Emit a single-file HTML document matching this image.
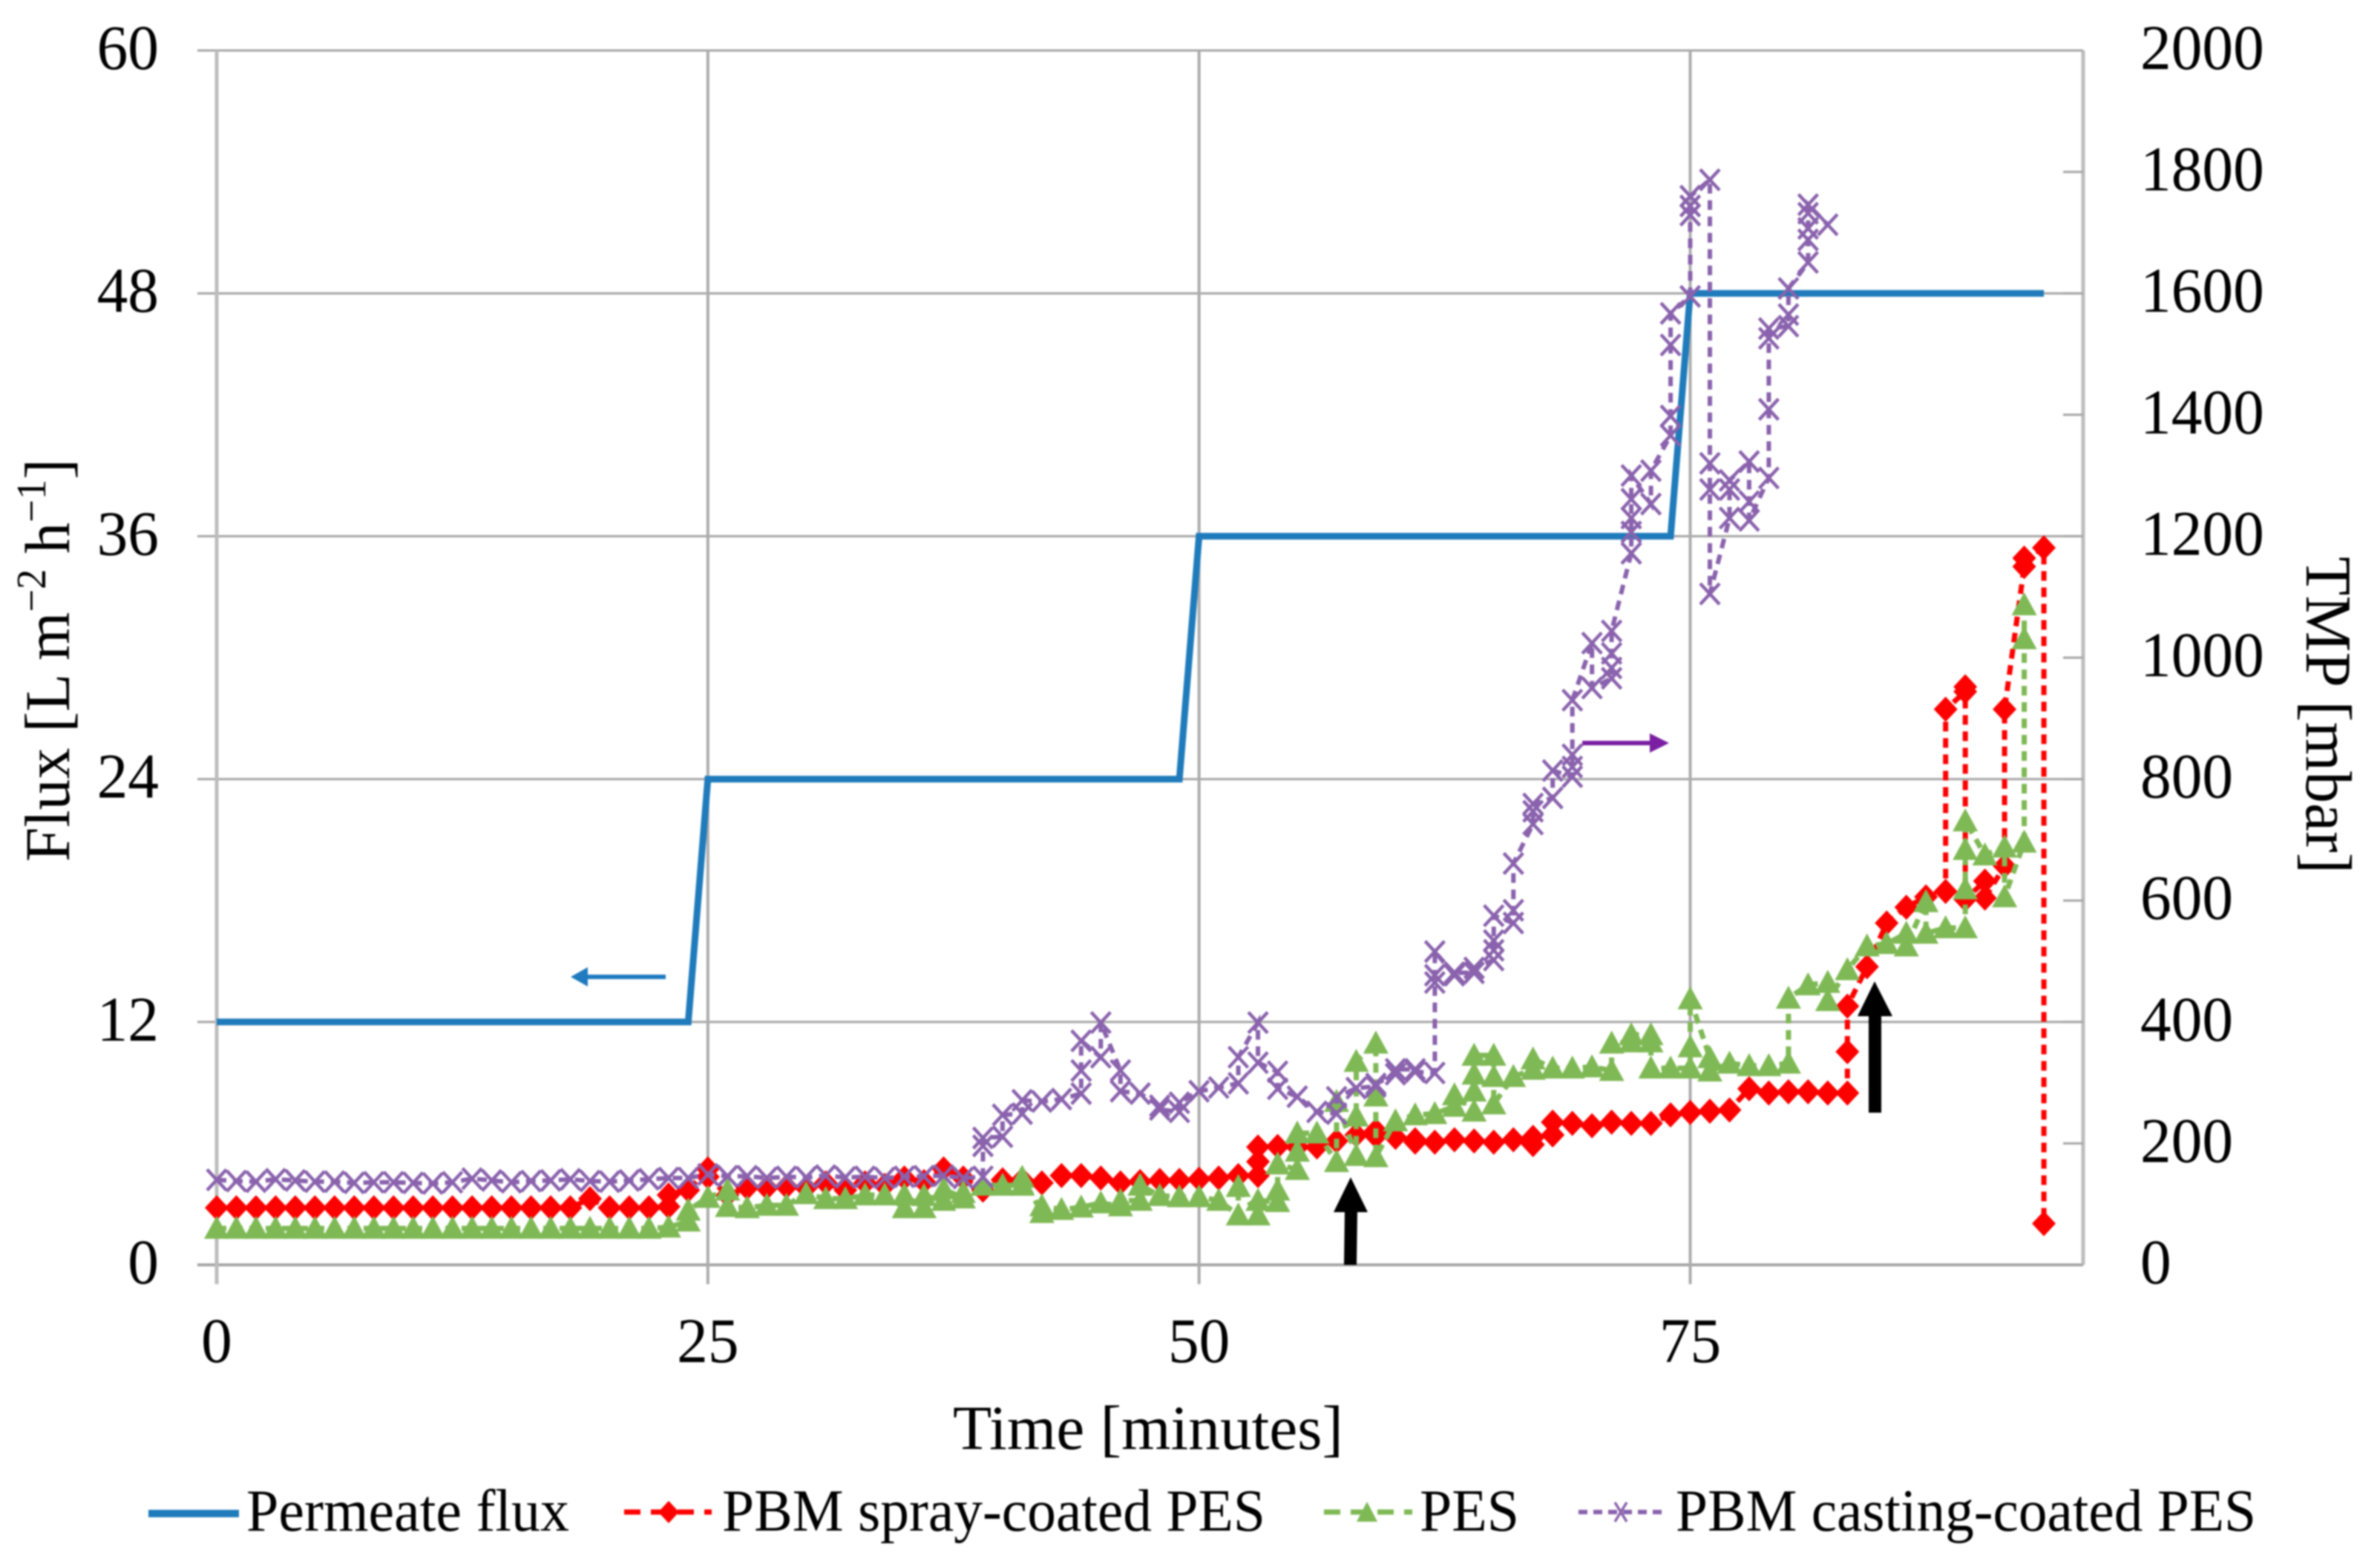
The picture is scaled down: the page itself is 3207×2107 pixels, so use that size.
<!DOCTYPE html>
<html lang="en">
<head>
<meta charset="utf-8">
<title>Flux and TMP versus time</title>
<style>
html,body{margin:0;padding:0;background:#fff;width:3207px;height:2107px;overflow:hidden}
svg{display:block;filter:blur(1.1px)}
text{font-family:"Liberation Serif",serif;fill:#000}
</style>
</head>
<body>
<svg id="chart" xmlns="http://www.w3.org/2000/svg" width="3207" height="2107" viewBox="0 0 3207 2107">
  <rect x="0" y="0" width="3207" height="2107" fill="#fff"/>
  <g id="grid"></g>
  <g id="ticks"></g>
  <g id="marks"></g>

  <g>
    <line x1="897" y1="1316" x2="785" y2="1316" stroke="#1f7abf" stroke-width="6"/>
    <polygon points="769,1316 792,1303 792,1329" fill="#1f7abf"/>
  </g>
  <g>
    <line x1="2132" y1="1001" x2="2230" y2="1001" stroke="#7a1fa2" stroke-width="6"/>
    <polygon points="2249,1001 2223,988 2223,1014" fill="#7a1fa2"/>
  </g>
  <polygon points="1820,1586 1843,1633 1829,1633 1828,1704 1811,1704 1812,1633 1797,1633" fill="#000"/>
  <polygon points="2526,1322 2550,1369 2535,1369 2535,1499 2518,1499 2518,1369 2503,1369" fill="#000"/>

  <text transform="translate(93,1161) rotate(-90)" font-size="86" textLength="543" lengthAdjust="spacingAndGlyphs">Flux [L m<tspan font-size="56" dy="-32">−2</tspan><tspan dy="32"> h</tspan><tspan font-size="56" dy="-32">−1</tspan><tspan dy="32">]</tspan></text>
  <text transform="translate(3108,750) rotate(90)" font-size="88" textLength="427" lengthAdjust="spacingAndGlyphs">TMP [mbar]</text>
  <text x="1284" y="1952" font-size="85" textLength="526" lengthAdjust="spacingAndGlyphs">Time [minutes]</text>

  <g>
    <g>
      <line x1="200" y1="2039" x2="322" y2="2039" stroke="#1f7bbb" stroke-width="10"/>
      <text x="332" y="2062" font-size="80" textLength="435" lengthAdjust="spacingAndGlyphs">Permeate flux</text>
    </g>
    <g>
      <line x1="841" y1="2037" x2="959" y2="2037" stroke="#ff0000" stroke-width="7" stroke-dasharray="22 14"/>
      <polygon points="901,2022 915,2037 901,2052 887,2037" fill="#ff0000"/>
      <text x="973" y="2062" font-size="80" textLength="732" lengthAdjust="spacingAndGlyphs">PBM spray-coated PES</text>
    </g>
    <g>
      <line x1="1784" y1="2037" x2="1903" y2="2037" stroke="#7fb955" stroke-width="7" stroke-dasharray="22 14"/>
      <polygon points="1842,2023 1856,2050 1828,2050" fill="#7fb955"/>
      <text x="1913" y="2062" font-size="80" textLength="134" lengthAdjust="spacingAndGlyphs">PES</text>
    </g>
    <g>
      <line x1="2127" y1="2037" x2="2246" y2="2037" stroke="#8a62ad" stroke-width="6" stroke-dasharray="12 8"/>
      <path d="M2176,2024 L2192,2050 M2192,2024 L2176,2050" stroke="#8a62ad" stroke-width="3.5" fill="none"/>
      <text x="2258" y="2062" font-size="80" textLength="782" lengthAdjust="spacingAndGlyphs">PBM casting-coated PES</text>
    </g>
  </g>
</svg>
<script>
// ---- chart data ----
const xTickLabels = [0, 25, 50, 75];
const fluxTickLabels = [0, 12, 24, 36, 48, 60];
const tmpTickLabels = [0, 200, 400, 600, 800, 1000, 1200, 1400, 1600, 1800, 2000];

const fluxTime = [0, 24, 25, 49, 50, 74, 75, 93];
const fluxValues = [12, 12, 24, 24, 36, 36, 48, 48];

const redTime = [
  0,1,2,3,4,5,6,7,8,9,10,11,12,13,14,15,16,17,18,19,20,21,22,
  23,23,24,25,25,
  26,27,28,29,30,31,32,33,34,35,36,37,38,39,40,41,
  42,43,44,45,46,47,48,49,50,51,52,
  53,53,53,54,55,56,57,58,59,59,60,61,61,
  62,63,64,65,66,67,67,68,68,
  69,70,71,72,73,74,75,76,77,78,79,80,81,82,
  83,83,83,84,85,86,87,88,88,89,89,89,90,90,91,91,92,92,93,93
];
const redTmp = [
  94,94,94,94,94,94,94,94,94,94,94,94,94,94,94,94,94,94,94,109,94,94,94,
  96,115,123,158,145,
  115,127,127,129,127,135,123,135,131,143,137,158,143,123,140,140,
  135,147,147,143,135,137,139,139,141,143,147,
  147,170,194,195,194,194,204,214,212,221,210,206,202,
  202,206,204,202,206,198,210,214,235,
  233,229,235,233,233,247,251,253,255,290,283,285,285,283,
  283,351,426,491,563,589,606,615,915,944,952,602,632,604,657,915,1150,1164,1181,68
];

const greenTime = [
  0,1,2,3,4,5,6,7,8,9,10,11,12,13,14,15,16,17,18,19,20,21,22,
  23,24,24,25,26,26,27,28,29,30,31,32,33,34,
  35,35,36,36,37,37,38,38,39,40,41,41,42,42,
  43,44,45,46,46,47,47,48,49,50,51,52,52,53,53,
  54,54,54,55,55,55,56,57,57,58,58,58,59,59,59,
  60,61,62,63,63,64,64,64,64,65,65,65,66,67,67,
  68,69,70,71,71,72,72,73,73,73,74,75,75,75,
  76,76,77,78,79,80,80,81,82,82,83,84,85,86,86,87,87,88,
  89,89,89,89,90,91,91,92,92,92
];
const greenTmp = [
  60,60,60,60,60,60,60,60,60,60,60,60,60,60,60,60,60,60,60,60,60,60,60,
  62,72,90,111,123,96,94,98,98,117,109,109,115,115,
  94,115,94,114,106,125,110,119,131,131,131,144,86,97,
  91,95,102,97,106,106,131,114,112,112,106,82,129,82,106,
  104,123,166,157,187,217,217,170,269,180,245,335,365,278,178,
  237,247,249,261,280,253,286,314,345,345,310,265,310,322,339,
  324,324,326,320,365,367,379,379,367,324,324,324,359,438,
  341,319,332,328,328,332,439,461,465,435,486,525,529,546,525,598,546,555,
  555,619,684,731,675,688,606,696,1031,1087
];

const purpleTime = [
  0,1,2,3,4,5,6,7,8,9,10,11,12,13,14,15,16,17,18,19,20,21,22,23,24,
  25,26,27,28,29,30,31,32,33,34,35,36,37,38,
  39,39,39,40,40,41,41,42,43,44,44,44,45,45,46,46,47,48,48,49,49,
  50,51,52,52,53,53,54,54,55,56,57,57,58,59,59,60,60,61,61,
  62,62,62,62,63,63,64,64,65,65,65,65,66,66,66,
  67,67,67,68,68,69,69,69,69,70,70,71,71,71,71,
  72,72,72,72,72,73,73,74,74,74,74,75,75,75,75,
  76,76,76,76,77,77,77,78,78,78,79,79,79,79,80,80,80,
  81,81,81,81,81,82
];
const purpleTmp = [
  140,138,137,141,139,137,137,135,136,136,135,134,136,142,139,136,138,139,141,138,137,139,141,143,143,
  149,146,146,143,145,144,147,144,145,143,145,146,147,143,
  145,196,209,211,247,249,271,269,273,282,320,369,342,399,320,286,282,262,256,252,267,
  286,292,299,342,399,333,318,290,277,252,249,276,291,294,298,314,322,322,318,
  316,465,477,516,477,481,481,489,502,518,534,575,563,584,661,
  726,747,759,769,814,804,820,840,930,1024,950,966,983,1007,1044,
  1172,1207,1230,1261,1300,1253,1308,1366,1398,1515,1567,1595,1729,1744,1760,
  1787,1320,1277,1105,1230,1277,1292,1323,1257,1226,1296,1409,1526,1542,1546,1565,1608,
  1651,1688,1707,1732,1746,1713
];

// ---- axis functions ----
const PLOT_LEFT = 292, PLOT_RIGHT = 2807, PLOT_TOP = 68, PLOT_BOTTOM = 1704;
const X_MAX = 95, FLUX_MAX = 60, TMP_MAX = 2000;
function xScale(t) { return PLOT_LEFT + (PLOT_RIGHT - PLOT_LEFT) * t / X_MAX; }
function yFlux(v) { return PLOT_BOTTOM - (PLOT_BOTTOM - PLOT_TOP) * v / FLUX_MAX; }
function yTmp(v) { return PLOT_BOTTOM - (PLOT_BOTTOM - PLOT_TOP) * v / TMP_MAX; }

const NS = 'http://www.w3.org/2000/svg';
const gridGroup = document.getElementById('grid');
const tickGroup = document.getElementById('ticks');
const markGroup = document.getElementById('marks');

function make(tag, parent, attrs) {
  const el = document.createElementNS(NS, tag);
  for (const k in attrs) el.setAttribute(k, attrs[k]);
  parent.appendChild(el);
  return el;
}

// gridlines & axes
fluxTickLabels.forEach(function (v) {
  const line = make('line', gridGroup, {x1: 266, x2: PLOT_RIGHT, y1: yFlux(v), y2: yFlux(v), stroke: '#a6a6a6', 'stroke-width': v === 0 ? 4 : 3});
  
  
});
xTickLabels.forEach(function (t) {
  const line = make('line', gridGroup, {x1: xScale(t), x2: xScale(t), y1: PLOT_TOP, y2: 1730, stroke: t === 0 ? '#bdbdbd' : '#acacac', 'stroke-width': t === 0 ? 5 : 4});
  
  
});
const rightAxis = make('line', gridGroup, {x1: PLOT_RIGHT, x2: PLOT_RIGHT, y1: PLOT_TOP, y2: PLOT_BOTTOM, stroke: '#bdbdbd', 'stroke-width': 5});


tmpTickLabels.forEach(function (v) {
  const tick = make('line', gridGroup, {x1: 2780, x2: PLOT_RIGHT, y1: yTmp(v), y2: yTmp(v), stroke: '#a6a6a6', 'stroke-width': 3});
  
  
});

// tick labels
const DIGIT_W = 41.7;
fluxTickLabels.forEach(function (v) {
  const s = String(v);
  const label = make('text', tickGroup, {x: 214, y: yFlux(v) + 25, 'text-anchor': 'end', 'font-size': 86, textLength: s.length * DIGIT_W, lengthAdjust: 'spacingAndGlyphs'});
  
  
  label.textContent = s;
});
tmpTickLabels.forEach(function (v) {
  const s = String(v);
  const label = make('text', tickGroup, {x: 2884, y: yTmp(v) + 25, 'font-size': 86, textLength: s.length * DIGIT_W, lengthAdjust: 'spacingAndGlyphs'});
  
  
  label.textContent = s;
});
xTickLabels.forEach(function (t) {
  const s = String(t);
  const label = make('text', tickGroup, {x: xScale(t), y: 1835, 'text-anchor': 'middle', 'font-size': 86, textLength: s.length * DIGIT_W, lengthAdjust: 'spacingAndGlyphs'});
  
  
  label.textContent = s;
});

// series
function pathFrom(times, values, yFn) {
  const n = Math.min(times.length, values.length);
  let d = '';
  for (let i = 0; i < n; i++) {
    d += (i ? 'L' : 'M') + xScale(times[i]).toFixed(1) + ',' + yFn(values[i]).toFixed(1);
  }
  return d;
}

const fluxLine = make('path', markGroup, {d: pathFrom(fluxTime, fluxValues, yFlux), fill: 'none', stroke: '#1f7bbb', 'stroke-width': 9, 'stroke-linejoin': 'miter'});



const redLine = make('path', markGroup, {d: pathFrom(redTime, redTmp, yTmp), fill: 'none', stroke: '#ff0000', 'stroke-width': 7, 'stroke-dasharray': '13 9'});


for (let i = 0; i < Math.min(redTime.length, redTmp.length); i++) {
  const cx = xScale(redTime[i]), cy = yTmp(redTmp[i]);
  const m = make('polygon', markGroup, {points: cx + ',' + (cy - 17) + ' ' + (cx + 16) + ',' + cy + ' ' + cx + ',' + (cy + 17) + ' ' + (cx - 16) + ',' + cy, fill: '#ff0000'});
  
  
}

const greenLine = make('path', markGroup, {d: pathFrom(greenTime, greenTmp, yTmp), fill: 'none', stroke: '#7fb955', 'stroke-width': 7, 'stroke-dasharray': '13 9'});


for (let i = 0; i < Math.min(greenTime.length, greenTmp.length); i++) {
  const cx = xScale(greenTime[i]), cy = yTmp(greenTmp[i]);
  const m = make('polygon', markGroup, {points: cx + ',' + (cy - 17) + ' ' + (cx + 17) + ',' + (cy + 14) + ' ' + (cx - 17) + ',' + (cy + 14), fill: '#7fb955'});
  
  
}

const purpleLine = make('path', markGroup, {d: pathFrom(purpleTime, purpleTmp, yTmp), fill: 'none', stroke: '#8a62ad', 'stroke-width': 6, 'stroke-dasharray': '13 9'});


for (let i = 0; i < Math.min(purpleTime.length, purpleTmp.length); i++) {
  const cx = xScale(purpleTime[i]), cy = yTmp(purpleTmp[i]);
  const d = 'M' + (cx - 13) + ',' + (cy - 14) + 'L' + (cx + 13) + ',' + (cy + 14) + 'M' + (cx + 13) + ',' + (cy - 14) + 'L' + (cx - 13) + ',' + (cy + 14);
  const m = make('path', markGroup, {d: d, fill: 'none', stroke: '#8a62ad', 'stroke-width': 4.5});
  
  
}
</script>
</body>
</html>
